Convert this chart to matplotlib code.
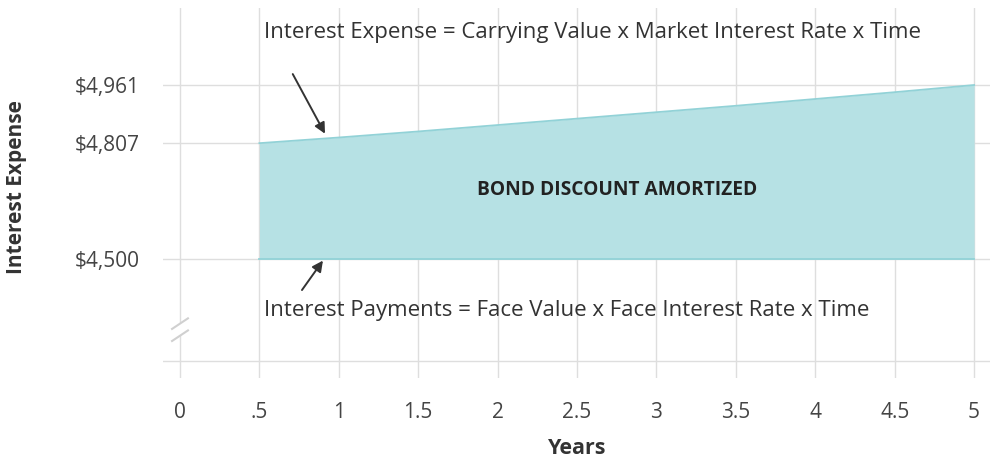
import matplotlib
matplotlib.use("Agg")
import matplotlib.pyplot as plt
from matplotlib.patches import Polygon

plt.rcParams['font.family'] = ['Open Sans', 'DejaVu Sans']

# semiannual periods, half years
years = [0.5, 1, 1.5, 2, 2.5, 3, 3.5, 4, 4.5, 5]
interest_expense = [4807, 4822, 4838, 4855, 4872, 4889, 4906, 4924, 4942, 4961]
interest_payment = [4500] * len(years)

x_ticks = [0, 0.5, 1, 1.5, 2, 2.5, 3, 3.5, 4, 4.5, 5]
x_labels = ['0', '.5', '1', '1.5', '2', '2.5', '3', '3.5', '4', '4.5', '5']
y_ticks = [4230, 4500, 4807, 4961]
y_labels = ['', '$4,500', '$4,807', '$4,961']

W, H = 993, 461
fig = plt.figure(figsize=(W / 100, H / 100), dpi=100)
# axes box in pixels: left 163, right 990, top 8, bottom 378
ax = fig.add_axes([163 / W, 1 - 378 / H, (990 - 163) / W, (378 - 8) / H])
ax.set_xlim(-0.107, 5.1)
ax.set_ylim(4185, 5165)

for s in ax.spines.values():
    s.set_visible(False)

ax.set_xticks(x_ticks)
ax.set_xticklabels(x_labels)
ax.set_yticks(y_ticks)
ax.set_yticklabels(y_labels)
ax.tick_params(length=0, labelsize=15, colors='#444444')
ax.tick_params(axis='x', pad=17)
ax.tick_params(axis='y', pad=17)
ax.grid(True, color='#dedede', lw=1.0)
ax.set_axisbelow(True)

ax.fill_between(years, interest_payment, interest_expense,
                color='#b6e1e4', lw=0, zorder=2)
ax.plot(years, interest_expense, color='#92d2d7', lw=1.3, zorder=3)
ax.plot(years, interest_payment, color='#92d2d7', lw=1.3, zorder=3)

ax.text(2.75, 4683, 'BOND DISCOUNT AMORTIZED', ha='center', va='center',
        fontsize=13.8, fontweight='bold', color='#222222', zorder=4)

ax.text(0.53, 5099,
        'Interest Expense = Carrying Value x Market Interest Rate x Time',
        ha='left', va='center', fontsize=16, color='#333333')
ax.text(0.53, 4365,
        'Interest Payments = Face Value x Face Interest Rate x Time',
        ha='left', va='center', fontsize=16, color='#333333')

arrow = dict(arrowstyle='-|>', color='#333333', lw=1.4,
             mutation_scale=16, shrinkA=0, shrinkB=0)
ax.annotate('', xy=(0.913, 4832), xytext=(0.71, 4990), arrowprops=arrow)
ax.annotate('', xy=(0.90, 4496), xytext=(0.768, 4418), arrowprops=arrow)

# axis break on the y axis
brk = Polygon([(-0.05, 4283), (0.05, 4311), (0.05, 4343), (-0.05, 4315)],
              closed=True, facecolor='white', edgecolor='none', zorder=5,
              clip_on=False)
ax.add_patch(brk)
ax.plot([-0.05, 0.05], [4283, 4311], color='#d0d0d0', lw=1.5, zorder=6,
        clip_on=False)
ax.plot([-0.05, 0.05], [4315, 4343], color='#d0d0d0', lw=1.5, zorder=6,
        clip_on=False)

fig.text(577 / W, 1 - 448 / H, 'Years', ha='center', va='center',
         fontsize=15.5, fontweight='bold', color='#333333')
fig.text(17 / W, 1 - 187 / H, 'Interest Expense', rotation=90,
         ha='center', va='center', fontsize=15, fontweight='bold',
         color='#333333')

fig.savefig('out.png', dpi=100)
